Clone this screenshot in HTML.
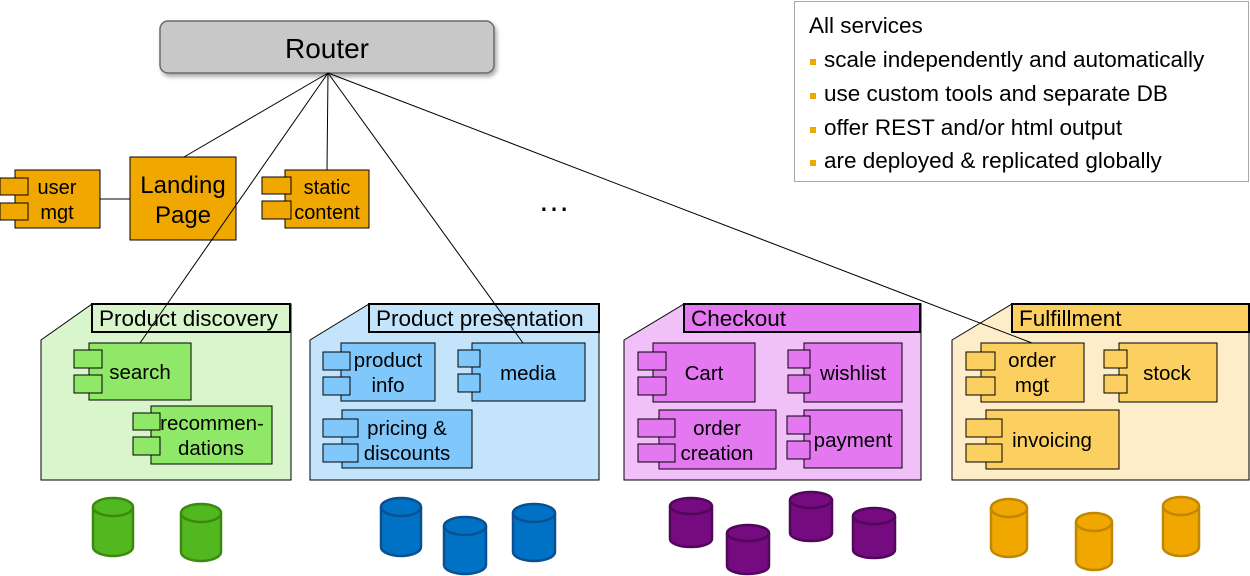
<!DOCTYPE html>
<html><head><meta charset="utf-8"><style>
html,body{margin:0;padding:0;background:#fff;}
svg{display:block;}
text{font-family:"Liberation Sans",Arial,sans-serif;fill:#000;}
</style></head><body>
<svg width="1250" height="576" viewBox="0 0 1250 576" xmlns="http://www.w3.org/2000/svg">
<defs>
<filter id="sh" x="-5%" y="-20%" width="115%" height="160%"><feDropShadow dx="2" dy="3" stdDeviation="2" flood-color="#000" flood-opacity="0.35"/></filter>
</defs>
<!-- Router -->
<rect x="160" y="21" width="334" height="52" rx="8" fill="#c8c8c8" stroke="#6a6a6a" stroke-width="1.5" filter="url(#sh)"/>
<text x="327" y="58" font-size="28" text-anchor="middle">Router</text>

<!-- top row orange -->
<g stroke="#000" stroke-width="1" fill="#f0a800">
<rect x="15" y="170" width="85" height="58"/>
<rect x="0" y="178" width="28" height="17"/>
<rect x="0" y="203" width="28" height="17"/>
<rect x="130" y="157" width="106" height="83"/>
<rect x="285" y="170" width="84" height="58"/>
<rect x="262" y="177" width="29" height="17"/>
<rect x="262" y="201" width="29" height="18"/>
</g>
<text x="57" y="194" font-size="20" text-anchor="middle">user</text>
<text x="57" y="219" font-size="20" text-anchor="middle">mgt</text>
<text x="183" y="193" font-size="24" text-anchor="middle">Landing</text>
<text x="183" y="223" font-size="24" text-anchor="middle">Page</text>
<text x="327" y="194" font-size="20" text-anchor="middle">static</text>
<text x="327" y="219" font-size="20" text-anchor="middle">content</text>
<text x="554" y="211" font-size="32" text-anchor="middle">…</text>

<!-- legend -->
<rect x="794.5" y="1.5" width="454" height="180" fill="#fff" stroke="#a8a8a8" stroke-width="1"/>
<text x="809" y="33" font-size="22.5">All services</text>
<g fill="#f0a800">
<rect x="810" y="59" width="6" height="6"/><rect x="810" y="93" width="6" height="6"/><rect x="810" y="127" width="6" height="6"/><rect x="810" y="160" width="6" height="6"/>
</g>
<text x="824" y="67" font-size="22.5">scale independently and automatically</text>
<text x="824" y="101" font-size="22.5">use custom tools and separate DB</text>
<text x="824" y="135" font-size="22.5">offer REST and/or html output</text>
<text x="824" y="168" font-size="22.5">are deployed &amp; replicated globally</text>

<!-- Product discovery -->
<polygon points="41,340 92,304 291,304 291,480 41,480" fill="#d9f5cc" stroke="#000" stroke-width="1"/>
<rect x="92" y="304" width="198" height="28" fill="#d9f5cc" stroke="#000" stroke-width="2"/>
<text x="99" y="326" font-size="22.5">Product discovery</text>
<g stroke="#000" stroke-width="1" fill="#90e868">
<rect x="89" y="343" width="102" height="57"/>
<rect x="74" y="350" width="28" height="18"/><rect x="74" y="375" width="28" height="18"/>
<rect x="151" y="406" width="121" height="58"/>
<rect x="133" y="413" width="27" height="17"/><rect x="133" y="437" width="27" height="18"/>
</g>
<text x="140" y="379" font-size="20.5" text-anchor="middle">search</text>
<text x="212" y="430" font-size="20.5" text-anchor="middle">recommen-</text>
<text x="211" y="455" font-size="20.5" text-anchor="middle">dations</text>

<!-- Product presentation -->
<polygon points="310,340 369,304 599,304 599,480 310,480" fill="#c4e4fc" stroke="#000" stroke-width="1"/>
<rect x="369" y="304" width="230" height="28" fill="#c4e4fc" stroke="#000" stroke-width="2"/>
<text x="376" y="326" font-size="22.5">Product presentation</text>
<g stroke="#000" stroke-width="1" fill="#80c8fc">
<rect x="341" y="343" width="94" height="58"/>
<rect x="323" y="352" width="27" height="18"/><rect x="323" y="377" width="27" height="18"/>
<rect x="472" y="343" width="113" height="58"/>
<rect x="458" y="350" width="22" height="17"/><rect x="458" y="374" width="22" height="18"/>
<rect x="342" y="410" width="130" height="58"/>
<rect x="323" y="419" width="35" height="18"/><rect x="323" y="444" width="35" height="18"/>
</g>
<text x="388" y="367" font-size="20.5" text-anchor="middle">product</text>
<text x="388" y="392" font-size="20.5" text-anchor="middle">info</text>
<text x="528" y="380" font-size="20.5" text-anchor="middle">media</text>
<text x="407" y="435" font-size="20.5" text-anchor="middle">pricing &amp;</text>
<text x="407" y="460" font-size="20.5" text-anchor="middle">discounts</text>

<!-- Checkout -->
<polygon points="624,340 684,304 921,304 921,480 624,480" fill="#f2c0f8" stroke="#000" stroke-width="1"/>
<rect x="684" y="304" width="236" height="28" fill="#e478f0" stroke="#000" stroke-width="2"/>
<text x="691" y="326" font-size="22.5">Checkout</text>
<g stroke="#000" stroke-width="1" fill="#e478f0">
<rect x="653" y="343" width="102" height="59"/>
<rect x="638" y="352" width="28" height="18"/><rect x="638" y="377" width="28" height="18"/>
<rect x="804" y="343" width="98" height="59"/>
<rect x="788" y="350" width="22" height="18"/><rect x="788" y="375" width="22" height="18"/>
<rect x="659" y="410" width="117" height="59"/>
<rect x="638" y="419" width="37" height="18"/><rect x="638" y="444" width="37" height="18"/>
<rect x="804" y="410" width="98" height="58"/>
<rect x="787" y="416" width="23" height="18"/><rect x="787" y="441" width="23" height="18"/>
</g>
<text x="704" y="380" font-size="20.5" text-anchor="middle">Cart</text>
<text x="853" y="380" font-size="20.5" text-anchor="middle">wishlist</text>
<text x="717" y="435" font-size="20.5" text-anchor="middle">order</text>
<text x="717" y="460" font-size="20.5" text-anchor="middle">creation</text>
<text x="853" y="447" font-size="20.5" text-anchor="middle">payment</text>

<!-- Fulfillment -->
<polygon points="952,340 1012,304 1249,304 1249,480 952,480" fill="#fdedc8" stroke="#000" stroke-width="1"/>
<rect x="1012" y="304" width="237" height="28" fill="#fcd060" stroke="#000" stroke-width="2"/>
<text x="1019" y="326" font-size="22.5">Fulfillment</text>
<g stroke="#000" stroke-width="1" fill="#fcd060">
<rect x="981" y="343" width="103" height="59"/>
<rect x="966" y="352" width="29" height="18"/><rect x="966" y="377" width="29" height="18"/>
<rect x="1119" y="343" width="98" height="59"/>
<rect x="1104" y="350" width="23" height="18"/><rect x="1104" y="375" width="23" height="18"/>
<rect x="986" y="410" width="133" height="59"/>
<rect x="966" y="419" width="36" height="18"/><rect x="966" y="444" width="36" height="18"/>
</g>
<text x="1032" y="367" font-size="20.5" text-anchor="middle">order</text>
<text x="1032" y="392" font-size="20.5" text-anchor="middle">mgt</text>
<text x="1167" y="380" font-size="20.5" text-anchor="middle">stock</text>
<text x="1052" y="447" font-size="20.5" text-anchor="middle">invoicing</text>

<!-- cylinders -->
<g stroke-width="2.5">
<g fill="#52b81f" stroke="#3a8a10">
<path d="M93,507 V547 A20,9 0 0 0 133,547 V507"/><ellipse cx="113" cy="507" rx="20" ry="9"/>
<path d="M181,513 V552 A20,9 0 0 0 221,552 V513"/><ellipse cx="201" cy="513" rx="20" ry="9"/>
</g>
<g fill="#0072c6" stroke="#0a5090">
<path d="M381,507 V547 A20,9 0 0 0 421,547 V507"/><ellipse cx="401" cy="507" rx="20" ry="9"/>
<path d="M444,526 V565 A21,9 0 0 0 486,565 V526"/><ellipse cx="465" cy="526" rx="21" ry="9"/>
<path d="M513,513 V552 A21,9 0 0 0 555,552 V513"/><ellipse cx="534" cy="513" rx="21" ry="9"/>
</g>
<g fill="#760a80" stroke="#500858">
<path d="M670,506 V539 A21,8 0 0 0 712,539 V506"/><ellipse cx="691" cy="506" rx="21" ry="8"/>
<path d="M727,533 V566 A21,8 0 0 0 769,566 V533"/><ellipse cx="748" cy="533" rx="21" ry="8"/>
<path d="M790,500 V533 A21,8 0 0 0 832,533 V500"/><ellipse cx="811" cy="500" rx="21" ry="8"/>
<path d="M853,516 V550 A21,8 0 0 0 895,550 V516"/><ellipse cx="874" cy="516" rx="21" ry="8"/>
</g>
<g fill="#f0a800" stroke="#c08800">
<path d="M991,508 V548 A18,9 0 0 0 1027,548 V508"/><ellipse cx="1009" cy="508" rx="18" ry="9"/>
<path d="M1076,522 V561 A18,9 0 0 0 1112,561 V522"/><ellipse cx="1094" cy="522" rx="18" ry="9"/>
<path d="M1163,506 V547 A18,9 0 0 0 1199,547 V506"/><ellipse cx="1181" cy="506" rx="18" ry="9"/>
</g>
</g>

<!-- connectors (on top) -->
<g stroke="#000" stroke-width="1" fill="none">
<line x1="328" y1="73" x2="184" y2="157"/>
<line x1="328" y1="73" x2="327" y2="170"/>
<line x1="328" y1="73" x2="140" y2="343"/>
<line x1="328" y1="73" x2="523" y2="343"/>
<line x1="328" y1="73" x2="1032" y2="343"/>
<line x1="100" y1="199" x2="130" y2="199"/>
</g>
</svg>
</body></html>
